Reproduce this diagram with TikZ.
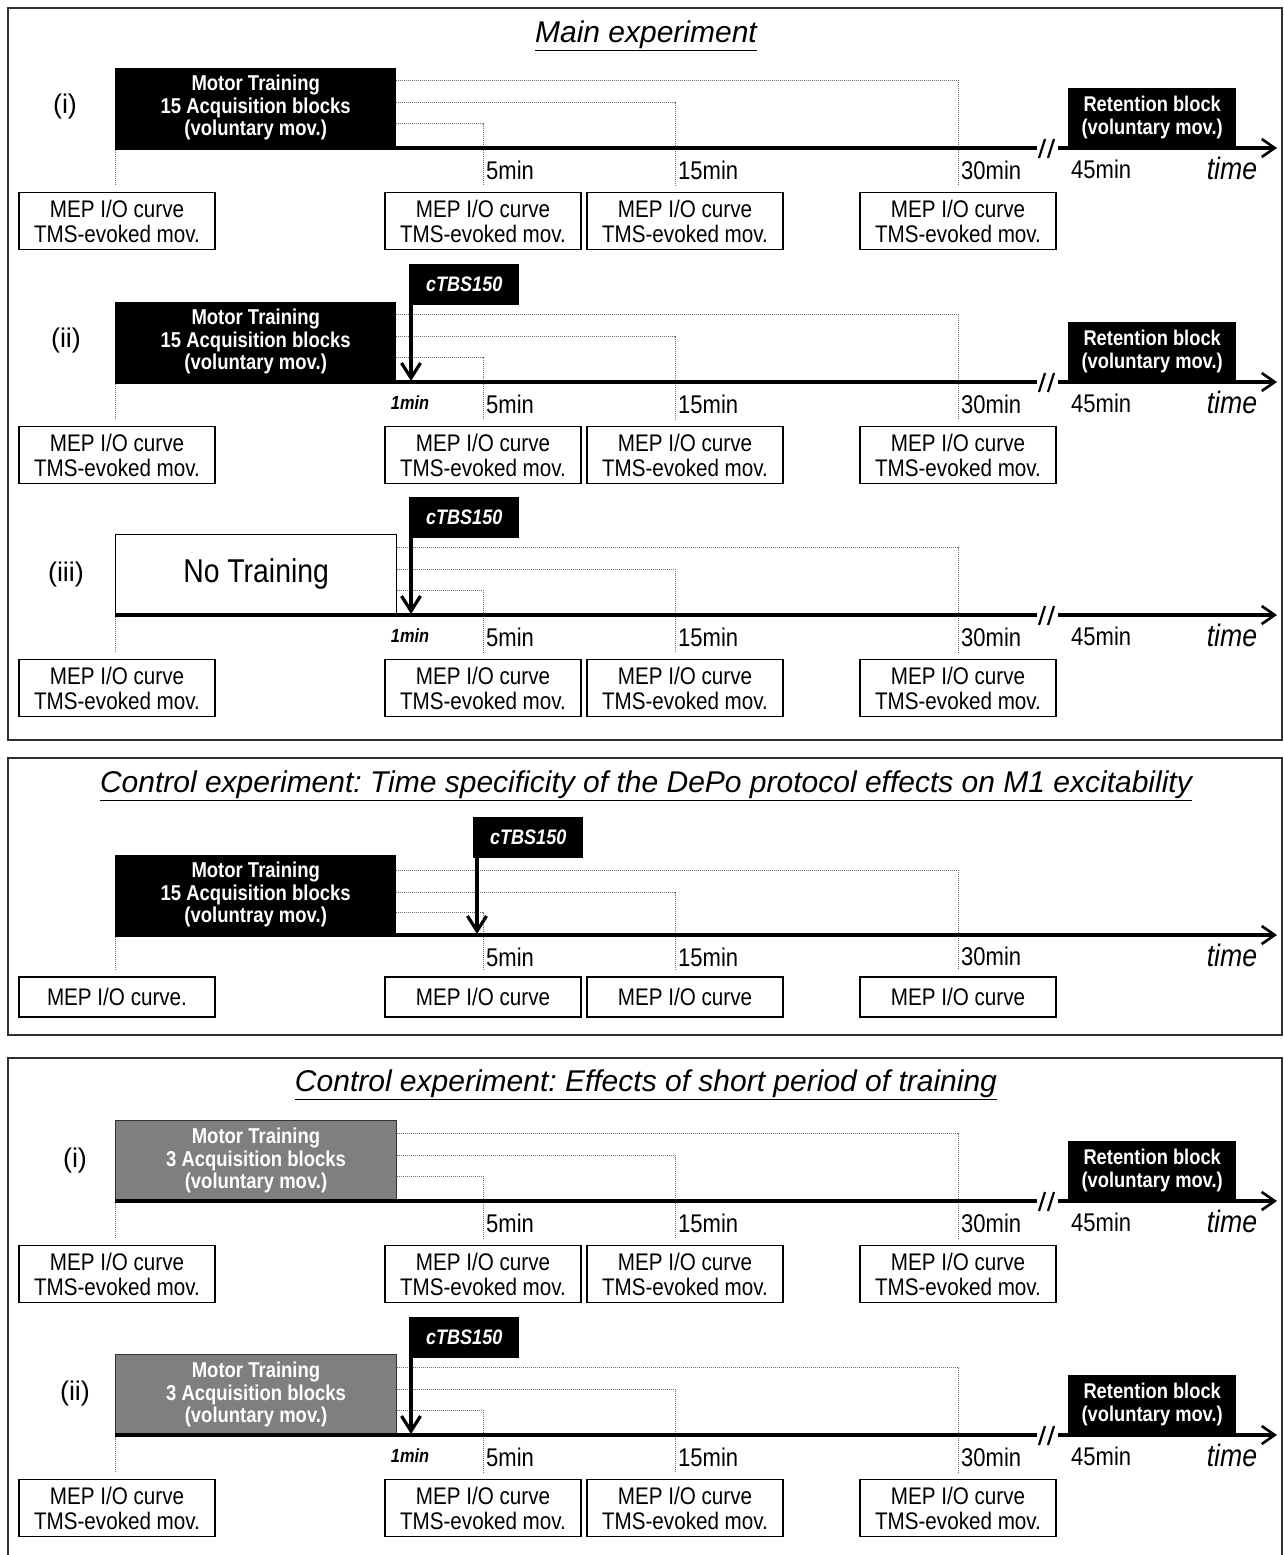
\documentclass[tikz,border=0pt]{standalone}
\usepackage{fontspec}
\setmainfont{Liberation Sans}
\newfontfamily\narrowfont{Liberation Sans}[FakeStretch=0.86]
\usepackage{tikz}
\usetikzlibrary{arrows.meta,positioning}
\definecolor{panelgray}{HTML}{2E2E2E}
\definecolor{traingray}{HTML}{7F7F7F}
\definecolor{dotgray}{HTML}{6A6A6A}
\frenchspacing

\begin{document}
\begin{tikzpicture}[x=1pt,y=-1pt,
  panel/.style={draw=panelgray,line width=2.2pt},
  paneltitle/.style={font=\fontsize{30}{32}\selectfont\itshape},
  trainbox/.style={minimum width=281pt,minimum height=80pt,inner sep=0pt,align=center,
    font=\narrowfont\bfseries\fontsize{21.5}{22.5}\selectfont},
  trainblack/.style={trainbox,fill=black,text=white},
  traingrey/.style={trainbox,fill=traingray,draw=black!80,line width=1pt,text=white},
  trainwhite/.style={trainbox,draw=black,line width=1.2pt,font=\narrowfont\fontsize{33}{34}\selectfont},
  mepbox/.style={draw=black,line width=1.2pt,minimum width=196pt,minimum height=57pt,inner sep=0pt,
    align=center,font=\narrowfont\fontsize{24}{25}\selectfont},
  mepone/.style={mepbox,minimum height=40pt},
  retbox/.style={fill=black,text=white,minimum width=168pt,minimum height=60pt,inner sep=0pt,
    align=center,font=\narrowfont\bfseries\fontsize{21.3}{23}\selectfont},
  stimbox/.style={fill=black,text=white,minimum width=110pt,minimum height=41pt,inner sep=0pt,
    font=\narrowfont\bfseries\itshape\fontsize{21}{22}\selectfont},
  onemin/.style={font=\narrowfont\bfseries\itshape\fontsize{19}{20}\selectfont},
  minlabel/.style={anchor=west,inner sep=0pt,font=\narrowfont\fontsize{25.6}{26}\selectfont},
  timelabel/.style={inner sep=0pt,font=\narrowfont\itshape\fontsize{31}{32}\selectfont},
  rowlabel/.style={font=\fontsize{27}{28}\selectfont},
  timeaxis/.style={line width=3.2pt},
  axisarrow/.style={timeaxis,-{Straight Barb[length=13pt,width=18pt,line width=2.6pt]}},
  stimarrow/.style={line width=3.8pt,-{Straight Barb[length=15pt,width=19pt,line width=3.2pt]}},
  dotline/.style={dotgray,line width=1pt,densely dotted},
  breakmark/.style={line width=2.2pt}]

\useasboundingbox (0,0) rectangle (1284,1555);

% panels
\draw[panel] (8,8) rectangle (1282,740);
\draw[panel] (8,758) rectangle (1282,1035);
\draw[panel] (8,1058) rectangle (1282,1600);
\node[paneltitle] (t1) at (646,36) {\underline{Main experiment}};
\node[paneltitle] (t2) at (646,786) {\underline{Control experiment: Time specificity of the DePo protocol effects on M1 excitability}};
\node[paneltitle] (t3) at (646,1085) {\underline{Control experiment: Effects of short period of training}};

% rows with break and retention time point
\foreach \r/\Y/\sty/\txt in {a/148/trainblack/{Motor Training\\15 Acquisition blocks\\(voluntary mov.)},
                             b/382/trainblack/{Motor Training\\15 Acquisition blocks\\(voluntary mov.)},
                             c/615/trainwhite/{No Training},
                             e/1201/traingrey/{Motor Training\\3 Acquisition blocks\\(voluntary mov.)},
                             f/1435/traingrey/{Motor Training\\3 Acquisition blocks\\(voluntary mov.)}}{
  \node[\sty,anchor=south west] (train\r) at (115,\Y) {\txt};
  \coordinate (o\r) at (115,\Y);
  \coordinate (k\r) at (1037,\Y);
  \coordinate (j\r) at (1058,\Y);
  \coordinate (e\r) at (1277,\Y);
  \node[mepbox] (m\r1) at (117,{\Y+73}) {MEP I/O curve\\TMS-evoked mov.};
  \node[mepbox] (m\r2) at (483,{\Y+73}) {MEP I/O curve\\TMS-evoked mov.};
  \node[mepbox] (m\r3) at (685,{\Y+73}) {MEP I/O curve\\TMS-evoked mov.};
  \node[mepbox] (m\r4) at (958,{\Y+73}) {MEP I/O curve\\TMS-evoked mov.};
  \draw[dotline] (o\r) -- ([yshift=6pt]o\r |- m\r1.north);
  \draw[dotline] ([yshift=25pt]train\r.south east) -| ([yshift=6pt]m\r2.north);
  \draw[dotline] ([yshift=46pt]train\r.south east) -| ([xshift=-10pt,yshift=6pt]m\r3.north);
  \draw[dotline] ([yshift=68pt]train\r.south east) -| ([yshift=6pt]m\r4.north);
  \draw[timeaxis] (o\r) -- (k\r);
  \draw[axisarrow] (j\r) -- (e\r);
  \draw[breakmark] (1039,{\Y+10}) -- (1045,{\Y-9}) (1048,{\Y+10}) -- (1054,{\Y-9});
  \node[minlabel] (l\r1) at (486,{\Y+22}) {5min};
  \node[minlabel] (l\r2) at (678,{\Y+22}) {15min};
  \node[minlabel] (l\r3) at (961,{\Y+22}) {30min};
  \node[minlabel] (l\r4) at (1071,{\Y+21}) {45min};
  \node[timelabel] (w\r) at (1232,{\Y+20}) {time};
}

% retention blocks
\foreach \r/\Y in {a/148,b/382,e/1201,f/1435}{
  \node[retbox,anchor=south west] (r\r) at (1068,\Y) {Retention block\\(voluntary mov.)};
}

% cTBS 1 min after training
\foreach \r/\Y in {b/382,c/615,f/1435}{
  \node[stimbox,anchor=north west] (s\r) at (409,{\Y-118}) {cTBS150};
  \coordinate (z\r) at (411,{\Y-1});
  \draw[stimarrow] ([xshift=2pt]s\r.south west) -- (z\r);
  \node[onemin] (u\r) at (410,{\Y+21}) {1min};
}

% control experiment: cTBS at 5 min
\node[trainblack,anchor=south west] (traind) at (115,935) {Motor Training\\15 Acquisition blocks\\(voluntray mov.)};
\coordinate (od) at (115,935);
\coordinate (ed) at (1277,935);
\node[mepone] (md1) at (117,997) {MEP I/O curve.};
\node[mepone] (md2) at (483,997) {MEP I/O curve};
\node[mepone] (md3) at (685,997) {MEP I/O curve};
\node[mepone] (md4) at (958,997) {MEP I/O curve};
\draw[dotline] (od) -- ([yshift=6pt]od |- md1.north);
\draw[dotline] ([yshift=23pt]traind.south east) -| ([yshift=6pt]md2.north);
\draw[dotline] ([yshift=43pt]traind.south east) -| ([xshift=-10pt,yshift=6pt]md3.north);
\draw[dotline] ([yshift=65pt]traind.south east) -| ([yshift=6pt]md4.north);
\draw[axisarrow] (od) -- (ed);
\node[stimbox,anchor=north west] (sd) at (473,817) {cTBS150};
\coordinate (zd) at (477,934);
\draw[stimarrow] ([xshift=4pt]sd.south west) -- (zd);
\node[minlabel] (ld1) at (486,957) {5min};
\node[minlabel] (ld2) at (678,957) {15min};
\node[minlabel] (ld3) at (961,956) {30min};
\node[timelabel] (wd) at (1232,955) {time};

% row labels
\node[rowlabel] (ia) at (65,107) {(i)};
\node[rowlabel] (ib) at (66,341) {(ii)};
\node[rowlabel] (ic) at (66,575) {(iii)};
\node[rowlabel] (ie) at (75,1160) {(i)};
\node[rowlabel] (if) at (75,1393) {(ii)};
\end{tikzpicture}
\end{document}
